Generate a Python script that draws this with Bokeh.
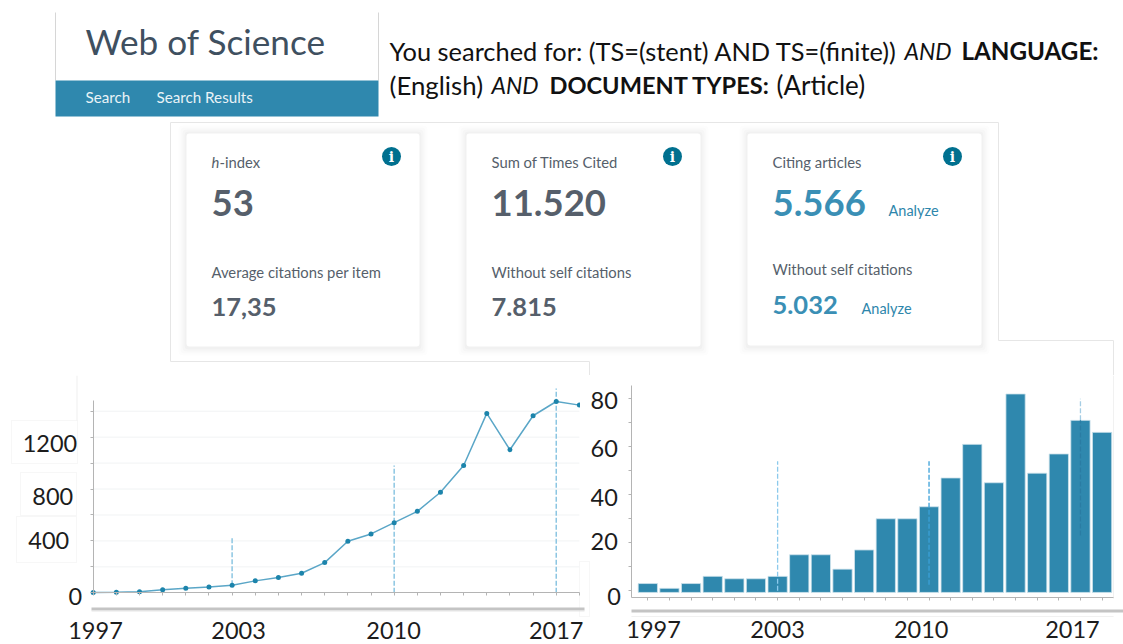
from bokeh.plotting import figure
from bokeh.layouts import column, row
from bokeh.embed import file_html
from bokeh.resources import INLINE
from bokeh.core.properties import value
from bokeh.models import Range1d, FixedTicker, BoxAnnotation

# ---------- data ----------
years = list(range(1997, 2019))
citations = [3, 5, 8, 23, 36, 44, 59, 92, 118, 151, 233, 398, 454, 541, 628, 775, 982, 1383, 1103, 1365, 1475, 1447]
publications = [3, 1, 3, 6, 5, 5, 6, 15, 15, 9, 17, 30, 30, 35, 47, 61, 45, 82, 49, 57, 71, 66]
year_labels = ["1997", "2003", "2010", "2017"]
year_label_values = [1997, 2003, 2010, 2017]
cit_labels = ["0", "400", "800", "1200"]
cit_label_values = [0, 400, 800, 1200]
cit_grid_values = [200, 400, 600, 800, 1000, 1200, 1400]
pub_labels = ["0", "20", "40", "60", "80"]
pub_label_values = [0, 20, 40, 60, 80]
marker_years = [2003, 2010, 2017]
cit_marker_low = [59, 0, 0]
cit_marker_high = [429, 981, 1575]
pub_marker_low = [0, 2.5, 71]
pub_marker_high = [54, 54, 80]
pub_inner_marker_year = [2017]
pub_inner_marker_low = [23]
pub_inner_marker_high = [71]

TEAL = "#2f88ae"
GREY = "#565f6b"
BLACK = "#1c1c1c"
FONT = value("Lato")
W, H = 1123, 644
TOP_H = 375
EDGE = "#e6e6e6"


def bare(p):
    p.outline_line_color = None
    p.background_fill_color = "white"
    p.border_fill_color = "white"
    return p


# ---------- top: header and cards ----------
top = bare(figure(width=W, height=TOP_H, x_range=Range1d(0, W), y_range=Range1d(TOP_H, 0),
                  toolbar_location=None, output_backend="svg", min_border=0,
                  x_axis_type=None, y_axis_type=None))
top.grid.visible = False


def txt(x, y, s, size, color=GREY, style="normal", align="left", font=FONT):
    top.text([x], [y], text=[s], text_font=font, text_font_size=f"{size}px", text_color=color,
             text_font_style=style, text_align=align, text_baseline="middle", x_offset=-1, y_offset=-1.7)


# Web of Science header
top.segment([55, 378], [12, 12], [55, 378], [80, 80], line_color="#d6d6d6", line_width=1)
top.quad(left=[55], right=[378], top=[80], bottom=[116], fill_color=TEAL, line_color=None)
txt(86, 42, "Web of Science", 35.2, "#3f5060")
txt(86, 98, "Search", 15.2, "#e9f3f7")
txt(157, 98, "Search Results", 15.2, "#e9f3f7")

# query text
txt(390, 52, "You searched for: (TS=(stent) AND TS=(finite))", 25.4, "#111111")
txt(905, 52, "AND", 23, "#111111", "italic")
txt(962, 52, "LANGUAGE:", 24.2, "#111111", "bold")
txt(390, 86, "(English)", 25.8, "#111111")
txt(492, 86, "AND", 23, "#111111", "italic")
txt(550, 86, "DOCUMENT TYPES:", 23.6, "#111111", "bold")
txt(777, 86, "(Article)", 26, "#111111")

# outer frames of the pasted panels
top.segment([170, 170, 998, 170, 998, 1113, 589],
            [122, 122, 122, 361, 340, 340, 361],
            [170, 998, 998, 589, 1113, 1113, 589],
            [361, 122, 340, 361, 340, 375, 375], line_color=EDGE, line_width=1)

# cards with a soft shadow
cards = [(186, 419, 133, 346), (466, 700, 133, 346), (747, 981, 133, 345)]
for (l, r, t, b) in cards:
    for d, a in [(8, 0.008), (6, 0.012), (4, 0.016), (2, 0.02)]:
        top.quad(left=[l - d], right=[r + d], top=[t - d], bottom=[b + d + 1], fill_color="#000000",
                 fill_alpha=a, line_color=None, border_radius=4)
    top.quad(left=[l], right=[r], top=[t], bottom=[b], fill_color="white", line_color=None, border_radius=3)

# info icons
for cx in (391, 672, 952):
    top.scatter([cx], [156], size=19, marker="circle", fill_color="#00708f", line_color=None)
    txt(cx + 1, 158, "i", 14, "white", "bold", "center", value("DejaVu Serif"))

# card 1
txt(212, 163, "h", 14.8, GREY, "italic")
txt(220, 163, "-index", 14.8)
txt(212, 204, "53", 36.5, GREY, "bold")
txt(212, 273, "Average citations per item", 14.8)
txt(212, 308, "17,35", 25.5, GREY, "bold")
# card 2
txt(492, 163, "Sum of Times Cited", 14.8)
txt(492, 204, "11.520", 36.5, GREY, "bold")
txt(492, 273, "Without self citations", 14.8)
txt(492, 308, "7.815", 25.5, GREY, "bold")
# card 3
txt(773, 163, "Citing articles", 14.8)
txt(773, 204, "5.566", 36.5, "#3a8fb5", "bold")
txt(889, 212, "Analyze", 14.5, "#2e86ab")
txt(773, 270, "Without self citations", 14.8)
txt(773, 306, "5.032", 25.5, "#3a8fb5", "bold")
txt(862, 310, "Analyze", 14.5, "#2e86ab")


def cbox(p, x0, l, r, t, b, fill=None, line=EDGE, level="underlay"):
    """decorative box given in page pixels"""
    p.add_layout(BoxAnnotation(left=l - x0, right=r - x0, top=t - TOP_H, bottom=b - TOP_H, left_units="canvas",
                               right_units="canvas", top_units="canvas", bottom_units="canvas",
                               fill_color=fill, fill_alpha=1 if fill else 0, line_color=line, line_width=1,
                               level=level, editable=False))


def labels(p, xs, ys, texts, xoff, yoff, align):
    p.text(xs, ys, text=texts, x_offset=xoff, y_offset=yoff, text_font=FONT, text_font_size="23.5px",
           text_color=BLACK, text_align=align, text_baseline="middle")


def style_axes(p, xticks, yticks):
    for ax, ticks in ((p.xaxis[0], xticks), (p.yaxis[0], yticks)):
        ax.ticker = FixedTicker(ticks=ticks)
        ax.major_label_overrides = {t: "" for t in ticks}
        ax.axis_line_color = "#b4b4b4"
        ax.major_tick_line_color = "#b4b4b4"
        ax.minor_tick_line_color = None
        ax.major_tick_out = 3
        ax.major_tick_in = 0


# ---------- left: citations ----------
left = bare(figure(width=590, height=H - TOP_H, x_range=Range1d(1992.996, 2018.48), y_range=Range1d(-398.6, 1675.4),
                   toolbar_location=None, output_backend="svg", min_border=0))
style_axes(left, years, list(range(0, 1401, 200)))
left.xaxis[0].fixed_location = 0
left.yaxis[0].fixed_location = 1997
left.xaxis[0].bounds = (1997, 2018)
left.yaxis[0].bounds = (0, 1480)
left.grid.visible = False

cbox(left, 0, 76.5, 76.5, 375, 420)
for box in [(11, 77, 420, 463), (20, 76, 472, 515), (16, 76, 516, 562)]:
    cbox(left, 0, *box, "white")
cbox(left, 0, 579, 589, 561, 616)
cbox(left, 0, 91, 584, 607, 610, "#c4c4c4", None)
cbox(left, 0, 91, 584, 610, 611, "#e6e6e6", None)

left.segment([1997] * len(cit_grid_values), cit_grid_values, [2018] * len(cit_grid_values), cit_grid_values,
             line_color="#f1f3f4", line_width=1)
left.segment(marker_years, cit_marker_low, marker_years, cit_marker_high, line_color="#8cc6e2",
             line_width=1.5, line_dash="5 2")
left.line(years, citations, line_color="#5aa6c7", line_width=1.5)
left.scatter(years, citations, size=5, marker="circle", fill_color="#1c84ab", line_color=None)
cbox(left, 0, 579.5, 589, 390, 420, "white", None, "overlay")
labels(left, [1997] * 4, cit_label_values, cit_labels, [-11, -24, -20, -16], [3.7, 0, 7, 6], "right")
labels(left, year_label_values, [0] * 4, year_labels, [2.3, 6.4, -0.6, 0], [37.5] * 4, "center")

# ---------- right: publications ----------
right = bare(figure(width=533, height=H - TOP_H, x_range=Range1d(1994.35, 2018.99), y_range=Range1d(-22.4, 89.7),
                    toolbar_location=None, output_backend="svg", min_border=0))
style_axes(right, years, list(range(0, 81, 10)))
right.xaxis[0].fixed_location = -2.67
right.yaxis[0].fixed_location = 1996.25
right.xaxis[0].bounds = (1996.25, 2018.55)
right.yaxis[0].bounds = (-2.67, 85.5)
right.grid.visible = False
cbox(right, 590, 1113, 1113, 375, 598)
cbox(right, 590, 631, 1113, 616, 616)
cbox(right, 590, 631, 1123, 609, 612, "#c4c4c4", None)

right.vbar(x=years, width=0.89, bottom=[-0.7] * len(years), top=publications, fill_color=TEAL,
           line_color="#cfe3ec", line_width=0.8)
right.segment(marker_years, pub_marker_low, marker_years, pub_marker_high,
              line_color=["#8ccaec", "#3aa0d8", "#a5cde4"], line_width=1.3, line_dash="5 2")
right.segment(pub_inner_marker_year, pub_inner_marker_low, pub_inner_marker_year, pub_inner_marker_high,
              line_color="#2a7ca3", line_width=1.3, line_dash="5 2")
labels(right, [1997] * 5, pub_label_values, pub_labels, [-27, -30, -30, -30, -30], [5.7, -1, 2.7, 1.5, 1.5], "right")
labels(right, year_label_values, [0] * 4, year_labels, [5.7, 0, -7.8, -8], [38.7] * 4, "center")

page = column(top, row(left, right, spacing=0), spacing=0)
open("out.html", "w").write(file_html(page, INLINE))
